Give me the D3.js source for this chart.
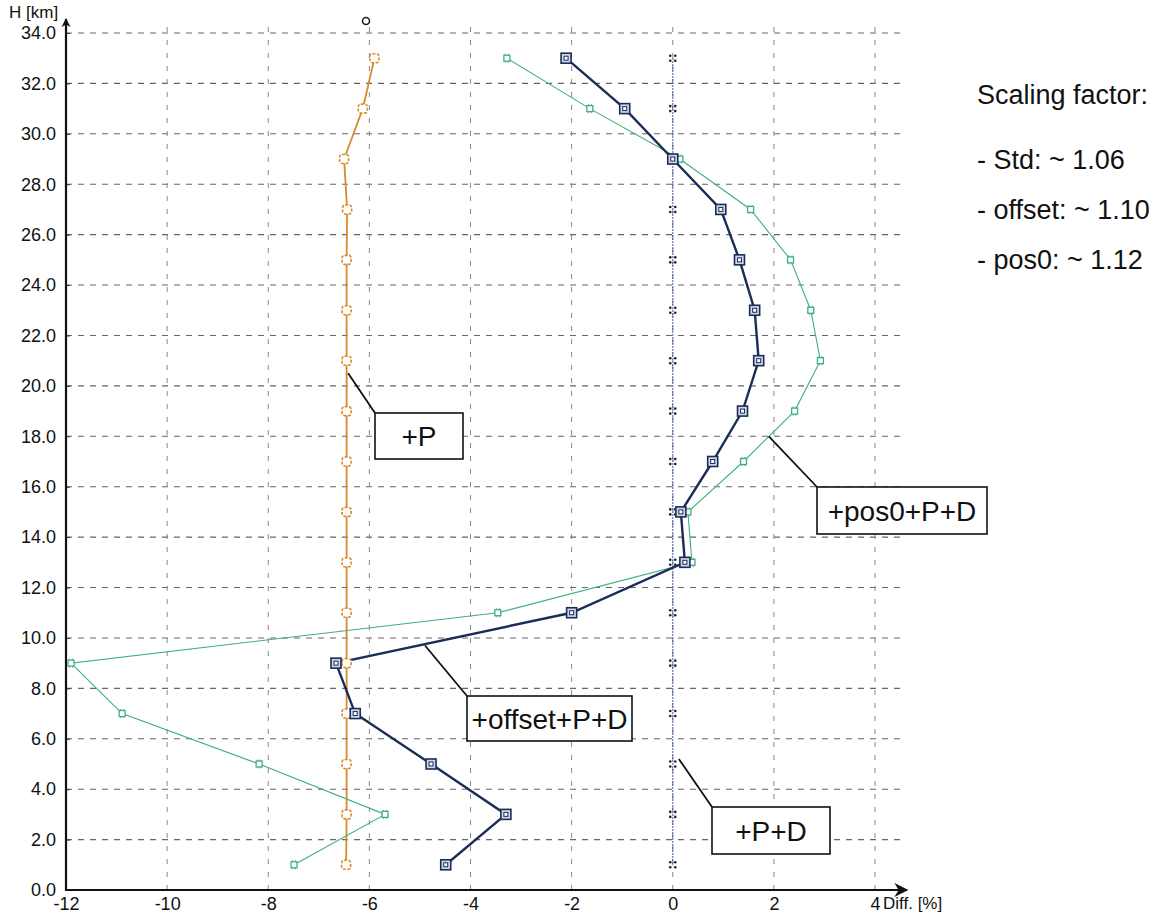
<!DOCTYPE html>
<html>
<head>
<meta charset="utf-8">
<script src="https://cdn.jsdelivr.net/npm/d3@7"></script>
<style>
  html, body { margin: 0; padding: 0; background: #fff; }
  svg { display: block; font-family: "Liberation Sans", Arial, sans-serif; }
</style>
</head>
<body>
<svg id="chart" width="1169" height="915"></svg>
<script>
// Heights [km] at which each profile is sampled
const heights = [33, 31, 29, 27, 25, 23, 21, 19, 17, 15, 13, 11, 9, 7, 5, 3, 1];

// Relative differences [%] per profile
const seriesP = [-5.9, -6.13, -6.5, -6.44, -6.45, -6.45, -6.45, -6.45, -6.45, -6.45, -6.45, -6.45, -6.45, -6.45, -6.45, -6.45, -6.46];
const seriesPD = [0, 0, 0, 0, 0, 0, 0, 0, 0, 0, 0, 0, 0, 0, 0, 0, 0];
const seriesOffset = [-2.11, -0.95, 0.0, 0.95, 1.32, 1.62, 1.70, 1.38, 0.79, 0.16, 0.24, -2.0, -6.66, -6.28, -4.78, -3.30, -4.49];
const seriesPos0 = [-3.28, -1.64, 0.14, 1.54, 2.33, 2.73, 2.92, 2.41, 1.40, 0.30, 0.38, -3.46, -11.9, -10.89, -8.18, -5.69, -7.49];

// Axis ticks
const xTicks = [-12, -10, -8, -6, -4, -2, 0, 2, 4];
const yTicks = [0, 2, 4, 6, 8, 10, 12, 14, 16, 18, 20, 22, 24, 26, 28, 30, 32, 34];

// Notes on the right side
const notes = ["Scaling factor:", "- Std: ~ 1.06", "- offset: ~ 1.10", "- pos0: ~ 1.12"];

const svg = d3.select("#chart");
const x = d3.scaleLinear().domain([-12, 4]).range([66, 875]);
const y = d3.scaleLinear().domain([0, 34]).range([890, 33]);

const C = {
  orange: "#d98a2b",
  navy: "#1b2d57",
  green: "#3fae86",
  blue: "#3b58a6",
  grid: "#666"
};
const FONT = "Liberation Sans, Arial, sans-serif";
const hyphen = s => s.replace("\u2212", "-");

// ---- grid ----
const grid = svg.append("g");
grid.selectAll("line.h").data(yTicks.filter(d => d > 0)).join("line")
  .attr("x1", x(-12)).attr("x2", 905)
  .attr("y1", d => y(d)).attr("y2", d => y(d))
  .attr("stroke", C.grid).attr("stroke-width", 1.1)
  .attr("stroke-dasharray", "6,6");
grid.selectAll("line.v").data(xTicks.filter(d => d > -12)).join("line")
  .attr("x1", d => x(d)).attr("x2", d => x(d))
  .attr("y1", y(0)).attr("y2", 22)
  .attr("stroke", "#888").attr("stroke-width", 1)
  .attr("stroke-dasharray", "5,8");

// ---- axes ----
const yAxis = d3.axisLeft(y).tickValues(yTicks)
  .tickFormat(d => hyphen(d3.format(".1f")(d))).tickSize(-4).tickPadding(10);
const gy = svg.append("g").attr("transform", `translate(${x(-12)},0)`).call(yAxis);
gy.select(".domain").remove();
gy.selectAll("text").attr("font-size", 18).attr("fill", "#111").attr("font-family", FONT);
gy.selectAll("line").attr("stroke", "#333");

const xAxis = d3.axisBottom(x).tickValues(xTicks)
  .tickFormat(d => hyphen(d3.format("d")(d))).tickSize(0).tickPadding(7);
const gx = svg.append("g").attr("transform", `translate(0,${y(0)})`).call(xAxis);
gx.select(".domain").remove();
gx.selectAll("text").attr("font-size", 18).attr("fill", "#111").attr("font-family", FONT);

// arrow heads
const defs = svg.append("defs");
defs.append("marker").attr("id", "arrow").attr("viewBox", "0 0 10 10")
  .attr("refX", 9).attr("refY", 5).attr("markerWidth", 9).attr("markerHeight", 14)
  .attr("markerUnits", "userSpaceOnUse").attr("orient", "auto")
  .append("path").attr("d", "M0,0 L10,5 L0,10 L3,5 Z").attr("fill", "#111");
defs.append("marker").attr("id", "arrowH").attr("viewBox", "0 0 10 10")
  .attr("refX", 9).attr("refY", 5).attr("markerWidth", 30).attr("markerHeight", 14)
  .attr("markerUnits", "userSpaceOnUse").attr("orient", "auto")
  .append("path").attr("d", "M0,0 L10,5 L0,10 L3,5 Z").attr("fill", "#111");

svg.append("line").attr("x1", x(-12)).attr("x2", x(-12))
  .attr("y1", y(0) + 1).attr("y2", 19)
  .attr("stroke", "#111").attr("stroke-width", 2.2).attr("marker-end", "url(#arrow)");
svg.append("line").attr("x1", x(-12) - 1).attr("x2", 907)
  .attr("y1", y(0)).attr("y2", y(0))
  .attr("stroke", "#111").attr("stroke-width", 2.2).attr("marker-end", "url(#arrowH)");

svg.append("text").attr("x", 9).attr("y", 18).attr("font-size", 17).attr("fill", "#111").text("H [km]");
svg.append("text").attr("x", 883).attr("y", 909).attr("font-size", 17).attr("fill", "#111").text("Diff. [%]");

// small stray circle mark near the top
svg.append("circle").attr("cx", 366).attr("cy", 21).attr("r", 3.5)
  .attr("fill", "none").attr("stroke", "#222").attr("stroke-width", 1.6);

// ---- profiles ----
const line = d3.line().x(d => x(d[0])).y(d => y(d[1]));
const pts = vals => vals.map((v, i) => [v, heights[i]]);

// +P+D (dotted blue at zero)
svg.append("path").datum(pts(seriesPD)).attr("d", line)
  .attr("fill", "none").attr("stroke", C.blue).attr("stroke-width", 1.3)
  .attr("stroke-dasharray", "1.5,1.5");
// +P (orange)
svg.append("path").datum(pts(seriesP)).attr("d", line)
  .attr("fill", "none").attr("stroke", C.orange).attr("stroke-width", 1.8);
// +pos0+P+D (green thin)
svg.append("path").datum(pts(seriesPos0)).attr("d", line)
  .attr("fill", "none").attr("stroke", C.green).attr("stroke-width", 1.1);
// +offset+P+D (navy thick)
svg.append("path").datum(pts(seriesOffset)).attr("d", line)
  .attr("fill", "none").attr("stroke", C.navy).attr("stroke-width", 2.4);

// markers: four dots for +P+D
const gPD = svg.append("g");
pts(seriesPD).forEach(p => {
  [[-2.5, -2.5], [2.5, -2.5], [-2.5, 2.5], [2.5, 2.5], [0, 0]].forEach(o => {
    gPD.append("circle").attr("cx", x(p[0]) + o[0]).attr("cy", y(p[1]) + o[1])
      .attr("r", o[0] === 0 ? 0.8 : 1.3).attr("fill", o[0] === 0 ? "#999" : "#223");
  });
});

// markers: open rounded squares for +P
svg.append("g").selectAll("rect").data(pts(seriesP)).join("rect")
  .attr("x", d => x(d[0]) - 4.5).attr("y", d => y(d[1]) - 4.5)
  .attr("width", 9).attr("height", 9).attr("rx", 2.5)
  .attr("fill", "#fff").attr("stroke", C.orange).attr("stroke-width", 1.6)
  .attr("stroke-dasharray", "3,1.5");

// markers: small hashed squares for +pos0+P+D
const gG = svg.append("g");
pts(seriesPos0).forEach(p => {
  const cx = x(p[0]), cy = y(p[1]);
  gG.append("rect").attr("x", cx - 3).attr("y", cy - 3).attr("width", 6).attr("height", 6)
    .attr("fill", "#fff").attr("stroke", C.green).attr("stroke-width", 1.3);
  gG.append("path")
    .attr("d", `M${cx - 1.5},${cy - 4.5}V${cy - 3} M${cx + 1.5},${cy - 4.5}V${cy - 3} M${cx - 1.5},${cy + 3}V${cy + 4.5} M${cx + 1.5},${cy + 3}V${cy + 4.5}`)
    .attr("stroke", C.green).attr("stroke-width", 1);
});

// markers: nested squares for +offset+P+D
const gN = svg.append("g");
pts(seriesOffset).forEach(p => {
  const cx = x(p[0]), cy = y(p[1]);
  gN.append("rect").attr("x", cx - 5).attr("y", cy - 5).attr("width", 10).attr("height", 10)
    .attr("fill", "#cfd8ea").attr("stroke", C.navy).attr("stroke-width", 1.6);
  gN.append("rect").attr("x", cx - 2).attr("y", cy - 2).attr("width", 4).attr("height", 4)
    .attr("fill", "#fff").attr("stroke", C.navy).attr("stroke-width", 1);
});

// ---- labels with leader lines ----
const labels = [
  { text: "+P", anchor: [-6.42, 20.5], box: [375, 413, 88, 46] },
  { text: "+pos0+P+D", anchor: [1.9, 18.0], box: [817, 487, 170, 47] },
  { text: "+offset+P+D", anchor: [-4.9, 9.7], box: [467, 696, 165, 45] },
  { text: "+P+D", anchor: [0.12, 5.2], box: [712, 807, 118, 47] }
];
const gL = svg.append("g");
labels.forEach(l => {
  const [bx, by, bw, bh] = l.box;
  gL.append("line").attr("x1", x(l.anchor[0])).attr("y1", y(l.anchor[1]))
    .attr("x2", bx).attr("y2", by).attr("stroke", "#111").attr("stroke-width", 1.8);
  gL.append("rect").attr("x", bx).attr("y", by).attr("width", bw).attr("height", bh)
    .attr("fill", "#fff").attr("stroke", "#111").attr("stroke-width", 1.6);
  gL.append("text").attr("x", bx + bw / 2).attr("y", by + bh / 2 + 10)
    .attr("text-anchor", "middle").attr("font-size", 28).attr("fill", "#111").text(l.text);
});

// ---- notes ----
svg.append("g").selectAll("text").data(notes).join("text")
  .attr("x", 977)
  .attr("y", (d, i) => i === 0 ? 104 : 119 + i * 50)
  .attr("font-size", 27).attr("fill", "#111").text(d => d);
</script>
</body>
</html>
